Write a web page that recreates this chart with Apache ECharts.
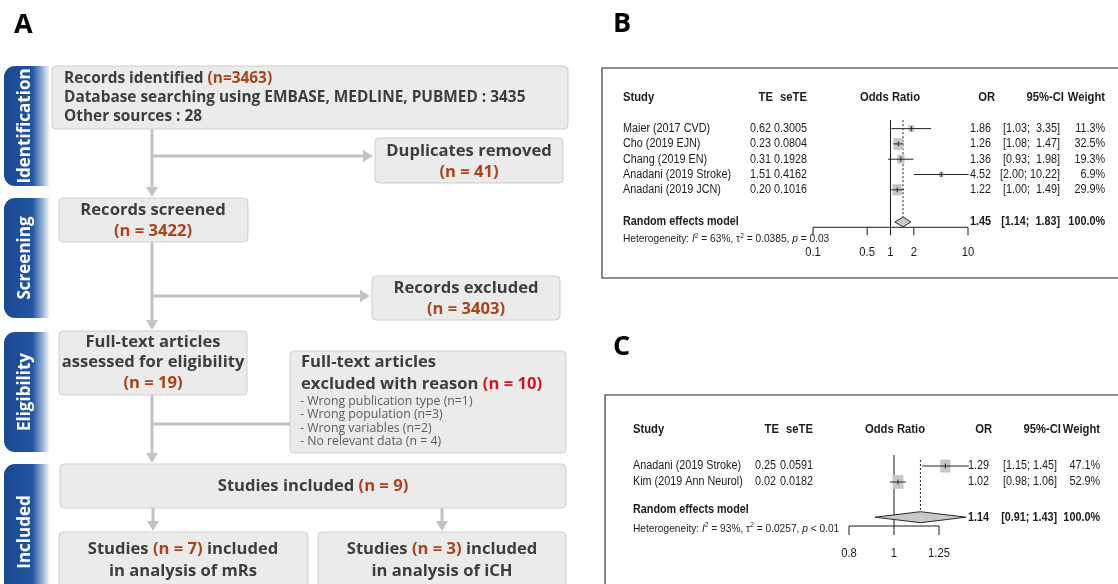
<!DOCTYPE html>
<html>
<head>
<meta charset="utf-8">
<script src="https://cdn.jsdelivr.net/npm/echarts@6/dist/echarts.min.js"></script>
<style>
html, body { margin: 0; padding: 0; background: #ffffff; }
#chart { width: 1118px; height: 584px; }
</style>
</head>
<body>
<div id="chart"></div>
<script>
// ---------- PRISMA flow counts ----------
const stageNames = ['Identification', 'Screening', 'Eligibility', 'Included'];
const searchSources = ['EMBASE', 'MEDLINE', 'PUBMED'];
const identifiedCounts = [3463, 3435, 28];          // total, database searching, other sources
const duplicatesRemoved = 41;
const recordsScreened = 3422;
const recordsExcluded = 3403;
const fullTextAssessed = 19;
const fullTextExcluded = 10;
const exclusionReasons = ['Wrong publication type (n=1)', 'Wrong population (n=3)', 'Wrong variables (n=2)', 'No relevant data (n = 4)'];
const includedCounts = [9, 7, 3];                   // total, mRS analysis, ICH analysis

// ---------- Forest plot B (mRS) ----------
const mrsStudies = ['Maier (2017 CVD)', 'Cho (2019 EJN)', 'Chang (2019 EN)', 'Anadani (2019 Stroke)', 'Anadani (2019 JCN)'];
const mrsTE = [0.62, 0.23, 0.31, 1.51, 0.20];
const mrsSeTE = [0.3005, 0.0804, 0.1928, 0.4162, 0.1016];
const mrsOR = [1.86, 1.26, 1.36, 4.52, 1.22];
const mrsLower = [1.03, 1.08, 0.93, 2.00, 1.00];
const mrsUpper = [3.35, 1.47, 1.98, 10.22, 1.49];
const mrsWeight = [11.3, 32.5, 19.3, 6.9, 29.9];
const mrsPooled = [1.45, 1.14, 1.83];               // OR, lower, upper
const mrsHeterogeneity = ['63%', '0.0385', '= 0.03'];
const mrsTicks = [0.1, 0.5, 1, 2, 10];
const mrsTickLabels = ['0.1', '0.5', '1', '2', '10'];

// ---------- Forest plot C (ICH) ----------
const ichStudies = ['Anadani (2019 Stroke)', 'Kim (2019 Ann Neurol)'];
const ichTE = [0.25, 0.02];
const ichSeTE = [0.0591, 0.0182];
const ichOR = [1.29, 1.02];
const ichLower = [1.15, 0.98];
const ichUpper = [1.45, 1.06];
const ichWeight = [47.1, 52.9];
const ichPooled = [1.14, 0.91, 1.43];
const ichHeterogeneity = ['93%', '0.0257', '< 0.01'];
const ichTicks = [0.8, 1, 1.25];
const ichTickLabels = ['0.8', '1', '1.25'];

// ---------- styling ----------
const FLOW_FAMILY = '"Open Sans", "Noto Sans", sans-serif';
const FOREST_FAMILY = '"Liberation Sans", Arial, sans-serif';
const TEXT_DARK = '#3d3d3d';
const NUM_BROWN = '#a8431b';
const NUM_RED = '#d0161e';
const LINE_GREY = '#c2c2c2';
const BOX_FILL = '#ebebeb';
const BOX_STROKE = '#cfcfcf';

// ================= Flow diagram (graphic elements) =================
function flowRich(size, weight) {
  const base = { fontSize: size, fontFamily: FLOW_FAMILY, fontWeight: weight };
  return {
    t: Object.assign({ fill: TEXT_DARK }, base),
    n: Object.assign({ fill: NUM_BROWN }, base),
    r: Object.assign({ fill: NUM_RED }, base)
  };
}
function flowBox(x, y, w, h) {
  return { type: 'rect', shape: { x: x, y: y, width: w, height: h, r: 4 },
           style: { fill: BOX_FILL, stroke: BOX_STROKE, lineWidth: 1 }, z: 2 };
}
function flowText(x, y, text, size, align, weight) {
  return { type: 'text', x: x, y: y, z: 5,
           style: { text: text, rich: flowRich(size, weight || 700), align: align || 'center', verticalAlign: 'middle',
                    fontSize: size, fontFamily: FLOW_FAMILY, fontWeight: weight || 700, fill: TEXT_DARK } };
}
function plainText(x, y, text, size, color) {
  return { type: 'text', x: x, y: y, z: 5,
           style: { text: text, align: 'left', verticalAlign: 'middle', fontSize: size, fontFamily: FLOW_FAMILY, fill: color } };
}
function vLine(x, y1, y2) {
  return { type: 'line', shape: { x1: x, y1: y1, x2: x, y2: y2 }, style: { stroke: LINE_GREY, lineWidth: 3 }, z: 1 };
}
function hLine(x1, x2, y) {
  return { type: 'line', shape: { x1: x1, y1: y, x2: x2, y2: y }, style: { stroke: LINE_GREY, lineWidth: 3 }, z: 1 };
}
function arrowDown(x, y1, y2) {
  return [vLine(x, y1, y2 - 8),
          { type: 'polygon', shape: { points: [[x - 6, y2 - 10], [x + 6, y2 - 10], [x, y2]] }, style: { fill: LINE_GREY }, z: 1 }];
}
function arrowRight(x1, x2, y) {
  return [hLine(x1, x2 - 8, y),
          { type: 'polygon', shape: { points: [[x2 - 10, y - 6], [x2 - 10, y + 6], [x2, y]] }, style: { fill: LINE_GREY }, z: 1 }];
}
function stageTab(y1, y2, name) {
  const grad = new echarts.graphic.LinearGradient(0, 0, 1, 0, [
    { offset: 0, color: '#1a4892' }, { offset: 0.62, color: '#2155a2' },
    { offset: 0.85, color: '#9db6da' }, { offset: 1, color: '#ffffff' }
  ]);
  return [
    { type: 'rect', shape: { x: 4, y: y1, width: 46, height: y2 - y1, r: [11, 0, 0, 11] }, style: { fill: grad }, z: 1 },
    { type: 'text', x: 25, y: (y1 + y2) / 2, rotation: Math.PI / 2, z: 3,
      style: { text: name, align: 'center', verticalAlign: 'middle', fill: '#ffffff',
               fontSize: 17, fontWeight: 'bold', fontFamily: FLOW_FAMILY } }
  ];
}

const tabSpans = [[66, 186], [198, 318], [332, 452], [464, 600]];
const mainX = 152;
const flowElements = [];
stageNames.forEach((s, i) => flowElements.push(...stageTab(tabSpans[i][0], tabSpans[i][1], s)));

// boxes
flowElements.push(flowBox(52, 66, 516, 63));
flowElements.push(flowBox(375, 138, 188, 45));
flowElements.push(flowBox(59, 198, 189, 44));
flowElements.push(flowBox(372, 276, 188, 44));
flowElements.push(flowBox(59, 331, 188, 64));
flowElements.push(flowBox(290, 351, 276, 102));
flowElements.push(flowBox(60, 464, 506, 44));
flowElements.push(flowBox(59, 532, 249, 70));
flowElements.push(flowBox(318, 532, 248, 70));

// connectors
flowElements.push(...arrowDown(mainX, 129, 197));
flowElements.push(...arrowRight(mainX, 373, 156));
flowElements.push(...arrowDown(mainX, 242, 330));
flowElements.push(...arrowRight(mainX, 370, 296));
flowElements.push(...arrowDown(mainX, 395, 463));
flowElements.push(hLine(mainX, 290, 424));
flowElements.push(...arrowDown(153, 508, 531));
flowElements.push(...arrowDown(442, 508, 531));

// texts
const identSize = 15.4, titleSize = 16.6;
flowElements.push(flowText(64, 79, '{t|Records identified }{n|(n=' + identifiedCounts[0] + ')}', identSize, 'left'));
flowElements.push(flowText(64, 98, '{t|Database searching using ' + searchSources.join(', ') + ' : ' + identifiedCounts[1] + '}', identSize, 'left'));
flowElements.push(flowText(64, 117, '{t|Other sources : ' + identifiedCounts[2] + '}', identSize, 'left'));

flowElements.push(flowText(469, 151, '{t|Duplicates removed}', titleSize));
flowElements.push(flowText(469, 172, '{n|(n = ' + duplicatesRemoved + ')}', titleSize));

flowElements.push(flowText(153, 210, '{t|Records screened}', titleSize));
flowElements.push(flowText(153, 231, '{n|(n = ' + recordsScreened + ')}', titleSize));

flowElements.push(flowText(466, 288, '{t|Records excluded}', titleSize));
flowElements.push(flowText(466, 309, '{n|(n = ' + recordsExcluded + ')}', titleSize));

flowElements.push(flowText(153, 342, '{t|Full-text articles}', titleSize));
flowElements.push(flowText(153, 362, '{t|assessed for eligibility}', titleSize));
flowElements.push(flowText(153, 383, '{n|(n = ' + fullTextAssessed + ')}', titleSize));

flowElements.push(flowText(301, 362, '{t|Full-text articles}', titleSize, 'left'));
flowElements.push(flowText(301, 384, '{t|excluded with reason }{r|(n = ' + fullTextExcluded + ')}', titleSize, 'left'));
exclusionReasons.forEach((r, i) => flowElements.push(plainText(300, 401 + i * 13.6, '- ' + r, 12.3, '#5c5c5c')));

flowElements.push(flowText(313, 486, '{t|Studies included }{n|(n = ' + includedCounts[0] + ')}', titleSize));
flowElements.push(flowText(183, 549, '{t|Studies }{n|(n = ' + includedCounts[1] + ')}{t| included}', titleSize));
flowElements.push(flowText(183, 571, '{t|in analysis of mRs}', titleSize));
flowElements.push(flowText(442, 549, '{t|Studies }{n|(n = ' + includedCounts[2] + ')}{t| included}', titleSize));
flowElements.push(flowText(442, 571, '{t|in analysis of iCH}', titleSize));

// panel letters and forest frames
function panelLetter(x, y, ch) {
  return { type: 'text', x: x, y: y, z: 5, style: { text: ch, align: 'left', verticalAlign: 'middle',
           fontSize: 27, fontWeight: 'bold', fontFamily: '"Open Sans", "Noto Sans", sans-serif', fill: '#000000' } };
}
flowElements.push(panelLetter(14, 25, 'A'));
flowElements.push(panelLetter(613, 24, 'B'));
flowElements.push(panelLetter(613, 347, 'C'));
flowElements.push({ type: 'rect', shape: { x: 602, y: 68, width: 620, height: 210 },
                    style: { fill: 'none', stroke: '#6b6b6b', lineWidth: 1.6 }, z: 1 });
flowElements.push({ type: 'rect', shape: { x: 605, y: 395, width: 620, height: 300 },
                    style: { fill: 'none', stroke: '#6b6b6b', lineWidth: 1.6 }, z: 1 });

// ================= Forest plots (custom series on log axes) =================
function fFont(size, bold, italic) {
  return (italic ? 'italic ' : '') + (bold ? 'bold ' : '') + size + 'px ' + FOREST_FAMILY;
}
function fText(x, y, text, align, font, sx) {
  return { type: 'text', x: x, y: y, scaleX: sx || 0.9,
           style: { text: text, x: 0, y: 0, align: align, verticalAlign: 'middle', fill: '#1c1c1c', font: font } };
}

const layoutB = {
  gridIndex: 0, rowH: 15.3, top: 98, nRows: 11,
  col: { study: 623, teHead: 773, te: 771, seHead: 807, se: 807, odds: 890, orHead: 995, or: 991,
         ciHead: 1064, ci: 1060, weight: 1105 },
  row: { header: 0, studies: [2, 3, 4, 5, 6], summary: 8.1, reLabel: 8.1, het: 9.2, axis: 8.45, tick: 10.1,
         refTop: 1.45, dotTop: 1.45 },
  box: [1.7, 2.05], diamondH: 5, tickLen: 8
};
const layoutC = {
  gridIndex: 1, rowH: 16, top: 430, nRows: 8,
  col: { study: 633, teHead: 779, te: 776, seHead: 813, se: 813, odds: 895, orHead: 992, or: 989,
         ciHead: 1061, ci: 1057, weight: 1100 },
  row: { header: 0, studies: [2.25, 3.25], summary: 5.45, reLabel: 5.0, het: 6.15, axis: 6.0, tick: 7.7,
         refTop: 1.56, dotTop: 1.87 },
  box: [1.5, 1.9], diamondH: 5.5, tickLen: 9
};

function forestSeries(L, d) {
  const g = L.gridIndex;
  // upper limits are padded to a common width, as in the printed table
  const wide = d.upper.some(v => v >= 10);
  const ciText = (lo, hi) => '[' + lo.toFixed(2) + '; ' + (wide && hi < 10 ? ' ' : '') + hi.toFixed(2) + ']';
  const studySeries = {
    type: 'custom', xAxisIndex: g, yAxisIndex: g, silent: true, z: 4,
    data: d.or.map((v, i) => [v, L.row.studies[i], d.lower[i], d.upper[i], d.weight[i]]),
    renderItem: function (params, api) {
      const i = params.dataIndex;
      const row = api.value(1);
      const c = api.coord([api.value(0), row]);
      const lo = api.coord([api.value(2), row]);
      const hi = api.coord([api.value(3), row]);
      const s = Math.sqrt(api.value(4));
      const bw = s * L.box[0], bh = s * L.box[1];
      const y = c[1];
      const f = fFont(12);
      return { type: 'group', children: [
        { type: 'rect', shape: { x: c[0] - bw / 2, y: y - bh / 2, width: bw, height: bh }, style: { fill: '#c6c6c6' } },
        { type: 'line', shape: { x1: lo[0], y1: y, x2: hi[0], y2: y }, style: { stroke: '#262626', lineWidth: 1 } },
        { type: 'line', shape: { x1: c[0], y1: y - 2.5, x2: c[0], y2: y + 2.5 }, style: { stroke: '#262626', lineWidth: 1 } },
        fText(L.col.study, y, d.studies[i], 'left', f),
        fText(L.col.te, y, d.te[i].toFixed(2), 'right', f),
        fText(L.col.se, y, d.se[i].toFixed(4), 'right', f),
        fText(L.col.or, y, api.value(0).toFixed(2), 'right', f),
        fText(L.col.ci, y, ciText(api.value(2), api.value(3)), 'right', f),
        fText(L.col.weight, y, api.value(4).toFixed(1) + '%', 'right', f)
      ] };
    }
  };

  const decorSeries = {
    type: 'custom', xAxisIndex: g, yAxisIndex: g, silent: true, z: 3,
    data: [[d.pooled[0], L.row.summary, d.pooled[1], d.pooled[2]]],
    renderItem: function (params, api) {
      const row = api.value(1);
      const c = api.coord([api.value(0), row]);
      const lo = api.coord([api.value(2), row]);
      const hi = api.coord([api.value(3), row]);
      const one = api.coord([1, L.row.axis]);
      const refTop = api.coord([1, L.row.refTop])[1];
      const dotTop = api.coord([1, L.row.dotTop])[1];
      const axisY = one[1];
      const yHead = api.coord([1, L.row.header])[1];
      const yRe = api.coord([1, L.row.reLabel])[1];
      const yHet = api.coord([1, L.row.het])[1];
      const yTick = api.coord([1, L.row.tick])[1];
      const h = L.diamondH;
      const hf = fFont(12.5, true);
      const kids = [];
      // column headers
      kids.push(fText(L.col.study, yHead, 'Study', 'left', hf));
      kids.push(fText(L.col.teHead, yHead, 'TE', 'right', hf));
      kids.push(fText(L.col.seHead, yHead, 'seTE', 'right', hf));
      kids.push(fText(L.col.odds, yHead, 'Odds Ratio', 'center', hf));
      kids.push(fText(L.col.orHead, yHead, 'OR', 'right', hf));
      kids.push(fText(L.col.ciHead, yHead, '95%-CI', 'right', hf));
      kids.push(fText(L.col.weight, yHead, 'Weight', 'right', hf));
      // line of no effect and pooled estimate
      kids.push({ type: 'line', shape: { x1: one[0], y1: refTop, x2: one[0], y2: axisY }, style: { stroke: '#1c1c1c', lineWidth: 1 } });
      kids.push({ type: 'line', shape: { x1: c[0], y1: dotTop, x2: c[0], y2: c[1] - h }, style: { stroke: '#1c1c1c', lineWidth: 1, lineDash: [2, 2] } });
      // pooled diamond
      kids.push({ type: 'polygon', shape: { points: [[lo[0], c[1]], [c[0], c[1] - h], [hi[0], c[1]], [c[0], c[1] + h]] },
                  style: { fill: '#c8c8c8', stroke: '#2a2a2a', lineWidth: 1 } });
      // pooled row text
      const bf = fFont(12, true);
      kids.push(fText(L.col.study, yRe, 'Random effects model', 'left', bf));
      kids.push(fText(L.col.or, c[1], api.value(0).toFixed(2), 'right', bf));
      kids.push(fText(L.col.ci, c[1], ciText(api.value(2), api.value(3)), 'right', bf));
      kids.push(fText(L.col.weight, c[1], '100.0%', 'right', bf));
      // heterogeneity line
      const hs = 11.3;
      kids.push({ type: 'text', x: L.col.study, y: yHet, scaleX: 0.9,
        style: { x: 0, y: 0, align: 'left', verticalAlign: 'middle',
          text: '{a|Heterogeneity: }{i|I}{s|2}{a| = ' + d.het[0] + ', \u03c4}{s|2}{a| = ' + d.het[1] + ', }{i|p}{a| ' + d.het[2] + '}',
          rich: {
            a: { font: fFont(hs), fill: '#1c1c1c', lineHeight: 14 },
            i: { font: fFont(hs, false, true), fill: '#1c1c1c', lineHeight: 14 },
            s: { font: fFont(7.5), fill: '#1c1c1c', verticalAlign: 'top', lineHeight: 14 }
          } } });
      // x axis
      const a0 = api.coord([d.ticks[0], L.row.axis]);
      const a1 = api.coord([d.ticks[d.ticks.length - 1], L.row.axis]);
      kids.push({ type: 'line', shape: { x1: a0[0], y1: axisY, x2: a1[0], y2: axisY }, style: { stroke: '#1c1c1c', lineWidth: 1 } });
      d.ticks.forEach((t, k) => {
        const p = api.coord([t, L.row.axis]);
        kids.push({ type: 'line', shape: { x1: p[0], y1: axisY, x2: p[0], y2: axisY + L.tickLen }, style: { stroke: '#1c1c1c', lineWidth: 1 } });
        kids.push(fText(p[0], yTick, d.tickLabels[k], 'center', fFont(12.5)));
      });
      return { type: 'group', children: kids };
    }
  };
  return [studySeries, decorSeries];
}

const seriesB = forestSeries(layoutB, {
  studies: mrsStudies, te: mrsTE, se: mrsSeTE, or: mrsOR, lower: mrsLower, upper: mrsUpper, weight: mrsWeight,
  pooled: mrsPooled, het: mrsHeterogeneity, ticks: mrsTicks, tickLabels: mrsTickLabels
});
const seriesC = forestSeries(layoutC, {
  studies: ichStudies, te: ichTE, se: ichSeTE, or: ichOR, lower: ichLower, upper: ichUpper, weight: ichWeight,
  pooled: ichPooled, het: ichHeterogeneity, ticks: ichTicks, tickLabels: ichTickLabels
});

const chart = echarts.init(document.getElementById('chart'), null, { renderer: 'canvas' });
chart.setOption({
  animation: false,
  backgroundColor: '#ffffff',
  grid: [
    { left: 813, width: 155, top: layoutB.top, height: layoutB.nRows * layoutB.rowH },
    { left: 849, width: 90, top: layoutC.top, height: layoutC.nRows * layoutC.rowH }
  ],
  xAxis: [
    { type: 'log', logBase: 10, min: mrsTicks[0], max: mrsTicks[mrsTicks.length - 1], gridIndex: 0, show: false },
    { type: 'log', logBase: 10, min: ichTicks[0], max: ichTicks[ichTicks.length - 1], gridIndex: 1, show: false }
  ],
  yAxis: [
    { type: 'value', min: 0, max: layoutB.nRows, inverse: true, gridIndex: 0, show: false },
    { type: 'value', min: 0, max: layoutC.nRows, inverse: true, gridIndex: 1, show: false }
  ],
  graphic: { elements: flowElements },
  series: seriesB.concat(seriesC)
});
</script>
</body>
</html>
